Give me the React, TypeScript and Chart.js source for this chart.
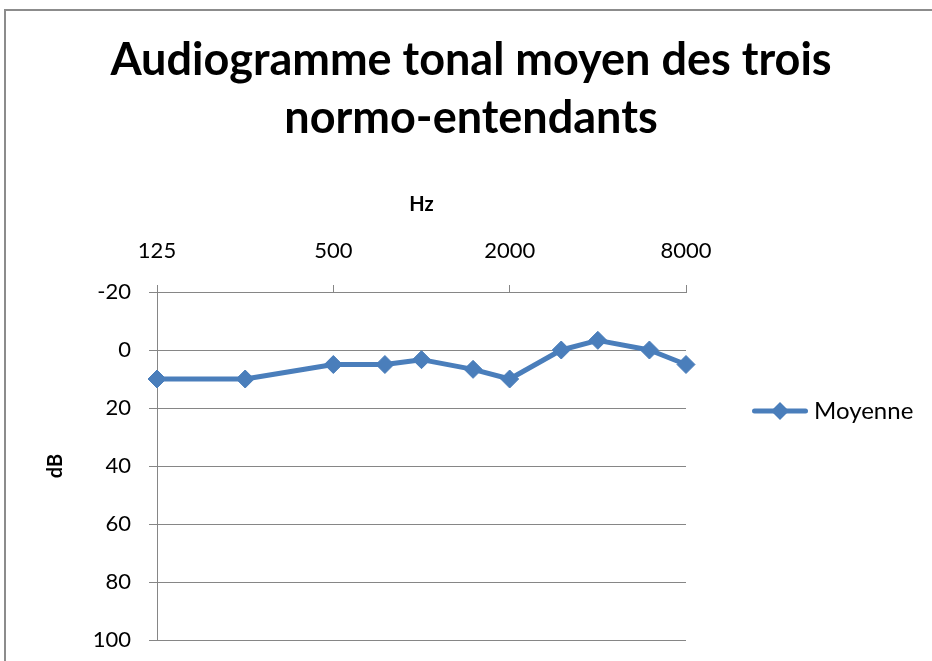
import { useEffect, useRef } from 'react';
import { Chart, registerables } from 'chart.js';

Chart.register(...registerables);

const TITLE_LINES = ['Audiogramme tonal moyen des trois', 'normo-entendants'];
const X_TITLE = 'Hz';
const Y_TITLE = 'dB';
const SERIES_LABEL = 'Moyenne';

const frequencies = [125, 250, 500, 750, 1000, 1500, 2000, 3000, 4000, 6000, 8000];
const moyenne = [10, 10, 5, 5, 3.33, 6.67, 10, 0, -3.33, 0, 5];

const xTickValues = [125, 500, 2000, 8000];
const yMin = -20;
const yMax = 100;
const yStep = 20;

const BLUE = '#4a7ebb';
const GRID = '#868686';
const FONT = 'Lato';

function makeLegendImage(): HTMLCanvasElement {
  const c = document.createElement('canvas');
  c.width = 56;
  c.height = 22;
  const g = c.getContext('2d')!;
  g.strokeStyle = BLUE;
  g.lineWidth = 5;
  g.lineCap = 'round';
  g.beginPath();
  g.moveTo(2.5, 11);
  g.lineTo(53.5, 11);
  g.stroke();
  g.fillStyle = BLUE;
  g.beginPath();
  g.moveTo(19, 11);
  g.lineTo(28, 2);
  g.lineTo(37, 11);
  g.lineTo(28, 20);
  g.closePath();
  g.fill();
  return c;
}

const framePlugin = {
  id: 'frame',
  beforeDraw(chart: any) {
    const { ctx, width, height } = chart;
    ctx.save();
    ctx.fillStyle = '#ffffff';
    ctx.fillRect(0, 0, width, height);
    ctx.strokeStyle = '#8c8c8c';
    ctx.lineWidth = 2;
    ctx.strokeRect(5, 10, width + 20, height + 20);
    ctx.restore();
  },
  afterLayout(chart: any) {
    const lg = chart.legend;
    if (!lg) return;
    const w = lg.width;
    const h = lg.height;
    lg.left = 748;
    lg.top = 389;
    lg.right = lg.left + w;
    lg.bottom = lg.top + h;
  },
};

export default function App() {
  const ref = useRef<HTMLCanvasElement | null>(null);

  useEffect(() => {
    if (!ref.current) return;
    Chart.defaults.font.family = FONT;
    Chart.defaults.color = '#000';
    const legendImg = makeLegendImage();

    const chart = new Chart(ref.current, {
      type: 'line',
      data: {
        datasets: [
          {
            label: SERIES_LABEL,
            data: frequencies.map((f, i) => ({ x: f, y: moyenne[i] })),
            borderColor: BLUE,
            backgroundColor: BLUE,
            borderWidth: 5,
            borderJoinStyle: 'round',
            tension: 0,
            pointStyle: 'rectRot',
            pointRadius: 9,
            pointBorderWidth: 1,
            pointBackgroundColor: BLUE,
            pointBorderColor: BLUE,
            clip: false,
          } as any,
        ],
      },
      plugins: [framePlugin],
      options: {
        responsive: false,
        animation: false,
        events: [],
        layout: { autoPadding: false, padding: { left: 10, top: 0, right: 0, bottom: 21 } },
        plugins: {
          title: {
            display: true,
            text: TITLE_LINES,
            color: '#000',
            font: { family: FONT, size: 45, weight: 'bold', lineHeight: 58 / 45 },
            padding: { top: 31, bottom: 8 },
          },
          legend: {
            display: true,
            position: 'chartArea',
            align: 'start',
            labels: {
              usePointStyle: true,
              pointStyle: legendImg as any,
              pointStyleWidth: 44,
              boxHeight: 24,
              padding: 10,
              color: '#000',
              font: { family: FONT, size: 24 },
            },
          },
          tooltip: { enabled: false },
        },
        scales: {
          x: {
            type: 'logarithmic',
            position: 'top',
            min: frequencies[0],
            max: frequencies[frequencies.length - 1],
            afterBuildTicks: (s: any) => {
              s.ticks = xTickValues.map((v) => ({ value: v }));
            },
            afterFit: (s: any) => {
              s.height = 137;
            },
            ticks: {
              autoSkip: false,
              maxRotation: 0,
              padding: 21,
              color: '#000',
              font: { family: FONT, size: 22 },
              callback: (v: any) => String(v),
            },
            grid: {
              display: true,
              drawOnChartArea: false,
              drawTicks: true,
              tickLength: 7,
              color: GRID,
              lineWidth: 1,
            },
            border: { display: true, color: GRID, width: 1 },
            title: {
              display: true,
              text: X_TITLE,
              color: '#000',
              font: { family: FONT, size: 20, weight: 'bold' },
              padding: { top: 38, bottom: 0 },
            },
          },
          y: {
            type: 'linear',
            position: 'left',
            reverse: true,
            min: yMin,
            max: yMax,
            afterFit: (s: any) => {
              s.width = 147;
              s.paddingTop = 0;
              s.paddingBottom = 0;
            },
            ticks: {
              stepSize: yStep,
              padding: 18,
              color: '#000',
              font: { family: FONT, size: 22 },
            },
            grid: {
              display: true,
              drawOnChartArea: true,
              drawTicks: true,
              tickLength: 8,
              color: GRID,
              lineWidth: 1,
            },
            border: { display: true, color: GRID, width: 1 },
            title: {
              display: true,
              text: Y_TITLE,
              color: '#000',
              font: { family: FONT, size: 20, weight: 'bold' },
              padding: { top: 34, bottom: 0 },
            },
          },
          yPad: {
            type: 'linear',
            position: 'right',
            display: true,
            afterFit: (s: any) => {
              s.width = 246;
            },
            ticks: { display: false },
            grid: { display: false },
            border: { display: false },
          },
        },
      } as any,
    });

    return () => chart.destroy();
  }, []);

  return (
    <div style={{ position: 'absolute', left: 0, top: 0, width: 932, height: 661 }}>
      <canvas ref={ref} width={932} height={661} style={{ display: 'block' }} />
    </div>
  );
}
